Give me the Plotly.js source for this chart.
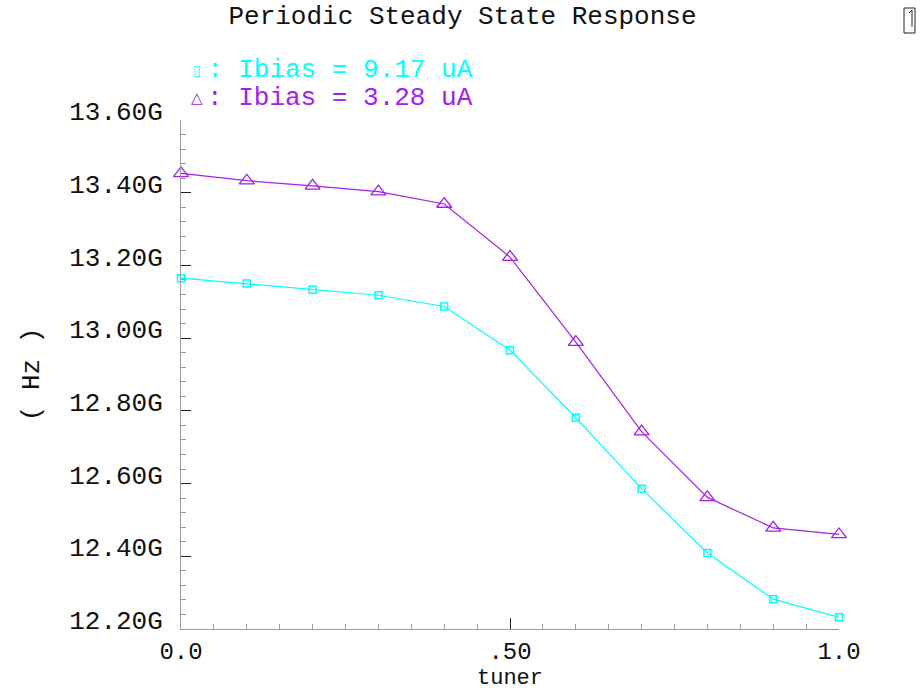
<!DOCTYPE html>
<html>
<head>
<meta charset="utf-8">
<script src="https://cdn.plot.ly/plotly-3.0.1.min.js"></script>
<style>
  html, body { margin: 0; padding: 0; background: #ffffff; }
  #chart { width: 920px; height: 691px; }
</style>
</head>
<body>
<div id="chart"></div>
<script>
// ---- data ----
const tuner = [0.0, 0.1, 0.2, 0.3, 0.4, 0.5, 0.6, 0.7, 0.8, 0.9, 1.0];
const freqIbias917 = [13.165e9, 13.150e9, 13.133e9, 13.118e9, 13.087e9, 12.967e9, 12.781e9, 12.586e9, 12.409e9, 12.282e9, 12.232e9];
const freqIbias328 = [13.453e9, 13.433e9, 13.419e9, 13.403e9, 13.369e9, 13.223e9, 12.989e9, 12.743e9, 12.562e9, 12.478e9, 12.460e9];
const seriesNames = ["Ibias = 9.17 uA", "Ibias = 3.28 uA"];
const seriesSymbols = ["\u25AF", "\u25B3"];
const yTickVals = [12.2e9, 12.4e9, 12.6e9, 12.8e9, 13.0e9, 13.2e9, 13.4e9, 13.6e9];
const yTickText = ["12.20G", "12.40G", "12.60G", "12.80G", "13.00G", "13.20G", "13.40G", "13.60G"];
const xTickVals = [0.0, 0.5, 1.0];
const xTickText = ["0.0", ".50", "1.0"];
const titleText = "Periodic Steady State Response";
const xTitle = "tuner";
const yTitle = "( Hz )";

// ---- layout helpers (pixel -> paper) ----
const W = 920, H = 691;
const M = { l: 181, r: 81, t: 120, b: 62 };
const PW = W - M.l - M.r, PH = H - M.t - M.b;
const px = x => (x - M.l) / PW;
const py = y => (H - M.b - y) / PH;

const CYAN = "#00ffff";
const PURPLE = "#a020f0";
const FONT = "Liberation Mono";
const TXT = "#111111";

const traces = [
  {
    x: tuner, y: freqIbias917, name: seriesNames[0], type: "scatter", mode: "lines+markers",
    line: { color: CYAN, width: 1.2 },
    marker: { symbol: "square-open", size: 7, color: CYAN, line: { color: CYAN, width: 1.5 } },
    cliponaxis: false, showlegend: false
  },
  {
    x: tuner, y: freqIbias328, name: seriesNames[1], type: "scatter", mode: "lines+markers",
    line: { color: PURPLE, width: 1.2 },
    marker: { symbol: "triangle-up-open", size: 13, color: PURPLE, line: { color: PURPLE, width: 1.3 } },
    cliponaxis: false, showlegend: false
  }
];

const legendColors = [CYAN, PURPLE];
const legendRowsY = [69.5, 98.5];
const annotations = [];
seriesNames.forEach((n, i) => {
  annotations.push({
    xref: "paper", yref: "paper", x: px(197), y: py(legendRowsY[i]),
    xanchor: "center", yanchor: "middle", showarrow: false,
    text: seriesSymbols[i], font: { family: "DejaVu Sans", size: i === 0 ? 14 : 15, color: legendColors[i] }
  });
  annotations.push({
    xref: "paper", yref: "paper", x: px(205), y: py(legendRowsY[i]),
    xanchor: "left", yanchor: "middle", showarrow: false,
    text: ": " + n, font: { family: FONT, size: 26, color: legendColors[i] }
  });
});

const layout = {
  width: W, height: H,
  margin: M,
  paper_bgcolor: "#ffffff", plot_bgcolor: "#ffffff",
  font: { family: FONT, size: 26, color: TXT },
  title: {
    text: titleText, font: { family: FONT, size: 26, color: TXT },
    x: 462.5 / W, xanchor: "center", xref: "container",
    y: 1 - 14.5 / H, yanchor: "middle", yref: "container"
  },
  xaxis: {
    range: [0, 1], fixedrange: true,
    showgrid: false, zeroline: false,
    showline: true, linecolor: "#9a9a9a", linewidth: 1,
    ticks: "inside", ticklen: 11, tickwidth: 1, tickcolor: "#222222",
    tickvals: xTickVals, ticktext: xTickText,
    tickfont: { family: FONT, size: 24, color: TXT },
    ticklabelstandoff: 0,
    minor: { dtick: 0.05, ticks: "inside", ticklen: 5, tickwidth: 1, tickcolor: "#9a9a9a", showgrid: false },
    title: { text: xTitle, font: { family: FONT, size: 22, color: TXT }, standoff: 2 },
    automargin: false
  },
  yaxis: {
    range: [12.2e9, 13.6e9], fixedrange: true,
    showgrid: false, zeroline: false,
    showline: true, linecolor: "#9a9a9a", linewidth: 1,
    ticks: "inside", ticklen: 10, tickwidth: 1, tickcolor: "#222222",
    tickvals: yTickVals, ticktext: yTickText,
    tickfont: { family: FONT, size: 26, color: TXT },
    ticklabelstandoff: 12, ticklabelshift: -9,
    minor: { dtick: 0.04e9, tick0: 12.2e9, ticks: "inside", ticklen: 5, tickwidth: 1, tickcolor: "#9a9a9a", showgrid: false },
    title: { text: yTitle, font: { family: FONT, size: 26, color: TXT }, standoff: 22 },
    automargin: false
  },
  shapes: [
    { type: "rect", xref: "paper", yref: "paper", x0: px(904), x1: px(915), y0: py(33), y1: py(8),
      line: { color: "#222222", width: 1 }, fillcolor: "rgba(0,0,0,0)" },
    { type: "line", xref: "paper", yref: "paper", x0: px(912), x1: px(912), y0: py(27), y1: py(10),
      line: { color: "#222222", width: 1 } },
    { type: "line", xref: "paper", yref: "paper", x0: px(909), x1: px(912), y0: py(13), y1: py(10),
      line: { color: "#222222", width: 1 } }
  ],
  annotations: annotations,
  showlegend: false
};

Plotly.newPlot("chart", traces, layout, { displayModeBar: false, staticPlot: true });
</script>
</body>
</html>
